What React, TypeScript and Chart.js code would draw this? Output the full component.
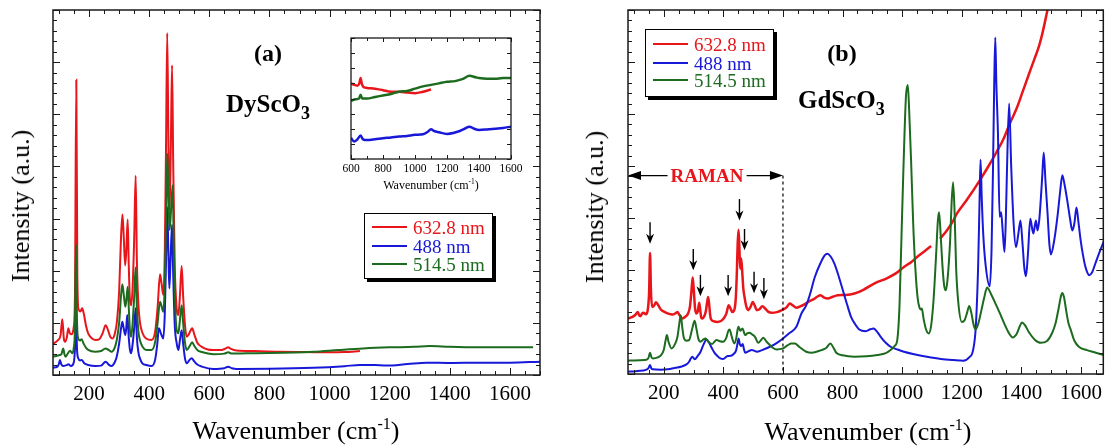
import React, { useEffect, useRef } from 'react';
import { Chart, registerables } from 'chart.js';

Chart.register(...registerables);

const SERIF = "'Liberation Serif', 'Times New Roman', serif";
const RED = '#e8161b';
const BLUE = '#1818d8';
const GREEN = '#1c6b1e';

type P = [number, number];

// ---------- Panel (a): DyScO3 ----------
const dyRed632: P[] = [
  [80, 3.0], [95, 3.3], [105, 3.8], [111, 5.34], [116, 3.5], [120, 3.2], [126, 3.6], [131, 4.48], [136, 4.0], [142, 3.9],
  [149, 4.6], [153, 7.5], [157.5, 28.3], [161, 9.5], [165, 6.3], [171, 6.1], [177, 6.4], [183, 5.8], [190, 4.7], [197, 4.0],
  [210, 3.5], [222, 3.35], [235, 3.45], [245, 4.0], [255, 4.76], [263, 4.3], [270, 3.7], [278, 3.5], [286, 4.0], [293, 5.2],
  [300, 8.0], [306, 13.0], [311, 15.4], [315, 13.5], [320, 10.5], [324, 12.0], [328.5, 14.9], [332, 10.5], [336, 7.2], [340, 6.7],
  [345, 8.5], [350, 13.0], [355, 19.1], [359, 11.0], [364, 6.8], [369, 5.1], [378, 4.0], [390, 3.5], [408, 3.35], [420, 4.2],
  [428, 6.5], [436, 9.65], [441, 8.8], [447, 7.67], [452, 12.0], [456, 22.0], [460, 32.8], [464, 22.0], [468, 15.8], [472, 22.0],
  [476, 29.7], [480, 20.0], [485, 10.5], [491, 6.55], [497, 5.75], [502, 7.5], [508, 10.45], [513, 7.5], [519, 4.8], [525, 3.67],
  [532, 3.9], [538, 4.3], [543, 4.48], [550, 3.9], [560, 3.1], [575, 2.7], [595, 2.45], [613, 2.4], [640, 2.4], [655, 2.55],
  [663, 2.65], [672, 2.5], [690, 2.35], [750, 2.3], [835, 2.23], [920, 2.2], [1001, 2.17], [1050, 2.2], [1101, 2.3],
];
const dyGreen514: P[] = [
  [80, 1.76], [100, 1.9], [108, 2.0], [114, 2.55], [118, 2.0], [122, 1.76], [130, 2.1], [137, 2.33], [144, 2.08], [149, 2.6],
  [153, 4.5], [156.5, 12.5], [160, 5.0], [164, 3.5], [170, 3.3], [175, 3.42], [182, 3.0], [190, 2.6], [197, 2.4], [220, 2.23],
  [240, 2.3], [255, 2.55], [265, 2.4], [275, 2.23], [285, 2.6], [292, 3.35], [300, 5.0], [306, 7.5], [310.6, 8.7], [315, 7.8],
  [320.6, 6.55], [325, 7.5], [328.5, 8.47], [332, 6.5], [336, 4.2], [340, 3.67], [345, 5.0], [350, 7.5], [355, 10.3], [359, 6.5],
  [364, 4.2], [369, 3.35], [378, 2.7], [390, 2.4], [408, 2.4], [420, 3.2], [428, 5.0], [436, 7.03], [441, 6.6], [447, 6.07],
  [452, 9.0], [456, 15.0], [460, 21.25], [464, 17.0], [468, 13.9], [473, 16.0], [478, 18.2], [482, 12.0], [486, 7.0], [491.5, 4.3],
  [497, 4.0], [502, 5.2], [508, 6.7], [513, 5.0], [519, 3.1], [525, 2.4], [535, 2.8], [543, 3.13], [550, 2.8], [560, 2.4],
  [575, 2.2], [613, 2.0], [650, 2.05], [663, 2.17], [675, 2.05], [724, 2.08], [800, 2.1], [946, 2.23], [1030, 2.4], [1112, 2.55],
  [1200, 2.65], [1280, 2.7], [1334, 2.78], [1400, 2.7], [1500, 2.65], [1600, 2.65], [1677, 2.65],
];
const dyBlue488: P[] = [
  [80, 0.7], [95, 0.8], [100, 1.1], [103, 1.44], [108, 1.0], [114, 0.86], [125, 0.95], [131, 1.02], [140, 0.86], [149, 1.2],
  [153, 2.5], [156.5, 5.6], [160, 2.4], [164, 1.6], [170, 1.4], [175, 1.44], [185, 1.1], [197, 0.96], [220, 0.86], [240, 0.9],
  [255, 1.28], [265, 1.0], [275, 0.86], [285, 1.2], [292, 1.76], [300, 3.0], [306, 4.4], [310.6, 5.1], [315, 4.5], [320.6, 3.83],
  [324, 4.6], [327, 5.75], [332, 3.6], [336, 2.4], [340, 2.08], [345, 3.0], [350, 4.5], [355, 6.4], [359, 3.6], [364, 2.2],
  [369, 1.6], [378, 1.1], [390, 0.96], [408, 0.86], [420, 1.5], [427, 3.0], [432, 4.48], [440, 3.9], [447, 3.5], [452, 6.0],
  [456, 11.0], [460, 16.1], [464, 11.5], [467, 8.3], [471, 11.0], [476, 14.4], [480, 9.5], [485, 4.8], [491.5, 3.04], [497, 2.4],
  [502, 3.3], [508, 4.3], [513, 3.0], [519, 1.6], [525, 1.12], [533, 1.4], [541, 1.6], [550, 1.3], [560, 1.0], [575, 0.8],
  [613, 0.58], [650, 0.65], [663, 0.8], [675, 0.65], [691, 0.58], [800, 0.6], [946, 0.7], [1050, 0.85], [1101, 0.96], [1150, 0.95],
  [1190, 0.9], [1260, 1.05], [1323, 1.18], [1400, 1.15], [1500, 1.18], [1600, 1.18], [1700, 1.28],
];

// Inset of panel (a)
const insetRed: P[] = [
  [600, 5.0], [620, 4.9], [640, 4.85], [652, 5.0], [660, 5.35], [668, 4.95], [680, 4.75], [700, 4.7], [750, 4.65], [800, 4.55],
  [850, 4.45], [900, 4.45], [950, 4.4], [1000, 4.35], [1050, 4.45], [1100, 4.6],
];
const insetGreen: P[] = [
  [600, 3.85], [630, 3.95], [650, 4.0], [660, 4.25], [670, 4.0], [700, 4.0], [750, 4.1], [800, 4.2], [850, 4.3], [900, 4.45],
  [950, 4.5], [1000, 4.65], [1050, 4.8], [1100, 4.9], [1150, 5.0], [1200, 5.1], [1250, 5.15], [1300, 5.3], [1340, 5.5], [1380, 5.4],
  [1400, 5.35], [1450, 5.3], [1500, 5.3], [1550, 5.35], [1600, 5.35],
];
const insetBlue: P[] = [
  [600, 1.4], [620, 1.15], [640, 1.3], [660, 1.55], [675, 1.3], [700, 1.25], [750, 1.3], [800, 1.37], [850, 1.42], [900, 1.48],
  [950, 1.52], [1000, 1.6], [1050, 1.63], [1080, 1.8], [1100, 1.97], [1120, 1.85], [1150, 1.77], [1200, 1.66], [1250, 1.75], [1280, 1.85],
  [1310, 2.0], [1340, 2.14], [1370, 2.0], [1400, 1.92], [1450, 1.95], [1500, 2.0], [1550, 2.05], [1600, 2.14],
];

// ---------- Panel (b): GdScO3 ----------
const gdRed632a: P[] = [
  [80, 5.34], [95, 5.5], [105, 5.7], [113, 5.97], [118, 5.6], [122, 5.56], [127, 5.8], [132, 5.88], [140, 5.75], [147, 6.3],
  [151, 8.0], [154, 11.63], [157, 8.0], [161, 6.45], [168, 6.6], [174, 6.9], [182, 6.6], [190, 6.2], [202, 5.97], [215, 5.8],
  [229.5, 5.72], [240, 5.85], [246, 5.97], [252, 5.7], [263, 5.34], [272, 5.5], [281.6, 5.82], [288, 6.5], [293, 8.0], [297, 9.27],
  [301, 8.0], [305, 6.3], [309, 5.82], [314, 6.0], [319, 6.84], [323, 6.0], [326, 5.4], [330, 5.34], [335, 5.5], [341, 6.0],
  [345, 6.8], [349, 7.41], [353, 6.5], [356, 5.6], [359, 5.24], [370, 5.05], [379, 5.01], [392, 5.1], [401, 5.34], [410, 5.8],
  [418, 6.6], [424, 6.3], [430, 5.95], [436, 6.1], [441, 7.0], [445, 9.5], [448, 12.5], [451, 13.87], [454, 12.0], [456.5, 10.13],
  [460, 11.1], [464, 9.5], [467, 8.2], [471, 7.4], [477, 6.5], [484, 6.14], [492, 6.5], [498.6, 6.93], [505, 6.6], [512, 6.14],
  [520, 6.2], [531, 6.52], [540, 6.3], [550, 6.0], [562, 5.88], [580, 5.95], [600, 6.2], [612, 6.4], [622.5, 6.77], [633, 6.6],
  [645, 6.36], [658, 6.5], [672, 6.7], [685, 6.93], [707, 7.26], [716, 7.45], [726, 7.57], [738, 7.35], [751, 7.26], [765, 7.4],
  [784, 7.57], [810, 7.6], [840, 7.74], [870, 8.1], [906, 8.7], [950, 9.23], [980, 9.7], [1006, 10.29], [1030, 10.75], [1050, 11.25],
  [1075, 11.8], [1097, 12.3],
];
const gdRed632b: P[] = [
  [1127, 13.0], [1150, 13.8], [1172, 14.77], [1183, 15.4], [1216, 16.7], [1260, 18.6], [1290, 20.0], [1316, 21.3], [1340, 22.6],
  [1360, 24.0], [1385, 25.6], [1405, 27.2], [1425, 28.8], [1444, 30.3], [1460, 31.6], [1471, 32.8], [1488, 35.05], [1495, 36.0],
];
const gdBlue488: P[] = [
  [80, 0.22], [100, 0.25], [113, 0.29], [140, 0.4], [148, 0.55], [154, 0.86], [159, 0.5], [164, 0.45], [190, 0.42], [213, 0.45],
  [240, 0.6], [257, 0.7], [275, 0.9], [285, 1.18], [291, 1.5], [296, 1.66], [304, 1.41], [313, 1.7], [323.5, 2.14], [333, 2.8],
  [343.5, 3.32], [352, 3.0], [362, 2.46], [370, 2.05], [379, 1.76], [390, 1.5], [399, 1.44], [414.5, 1.73], [425, 1.75], [434.5, 1.92],
  [443, 2.3], [448, 3.0], [451, 3.42], [455, 2.9], [459, 2.68], [465, 2.88], [469, 2.4], [473, 2.04], [485, 2.2], [495, 2.3],
  [503, 2.25], [512, 2.14], [530, 2.3], [556, 2.62], [580, 3.0], [600, 3.42], [620, 3.9], [645, 4.54], [662, 5.82], [678, 6.6],
  [690, 7.6], [707, 9.33], [725, 10.6], [740, 11.4], [749, 11.57], [760, 11.3], [773, 10.6], [787, 9.4], [801, 8.05], [815, 6.7],
  [828.5, 5.5], [842, 4.8], [856, 4.28], [878, 4.12], [893, 4.3], [904, 4.38], [915, 4.1], [928, 3.58], [945, 3.0], [961, 2.62],
  [985, 2.35], [1006, 2.14], [1040, 1.9], [1083, 1.66], [1130, 1.45], [1172, 1.34], [1205, 1.28], [1225, 1.6], [1238, 2.3], [1247, 4.5],
  [1255, 10.38], [1260, 17.0], [1263, 20.6], [1267, 17.0], [1272, 13.5], [1280, 10.5], [1294, 8.44], [1300, 12.0], [1305, 20.0], [1309, 28.0],
  [1312.5, 32.35], [1316, 28.0], [1321.5, 23.1], [1327, 15.1], [1332, 15.56], [1338, 13.5], [1343.5, 11.73], [1348, 15.0], [1352, 19.9], [1359, 26.0],
  [1366, 19.9], [1374, 14.5], [1382, 12.2], [1390, 13.5], [1397, 14.77], [1404, 12.5], [1410, 10.2], [1415.5, 9.4], [1422, 11.5], [1430, 14.93],
  [1440, 13.5], [1449, 14.77], [1454, 13.8], [1460, 14.8], [1465, 16.7], [1470, 19.0], [1475, 21.3], [1481, 18.5], [1488, 15.4], [1494, 12.5],
  [1499, 11.5], [1510, 12.8], [1521, 15.1], [1530, 17.5], [1537.5, 19.1], [1545, 18.2], [1554, 16.7], [1563, 15.0], [1571, 13.8], [1578, 14.5],
  [1585, 16.0], [1592, 14.5], [1599, 12.85], [1607, 11.4], [1615, 10.3], [1628, 9.5], [1638, 9.8], [1648, 10.6], [1662, 11.7], [1676, 12.7],
];
const gdGreen514: P[] = [
  [80, 1.28], [100, 1.3], [135, 1.34], [148, 1.5], [154, 2.04], [159, 1.6], [164, 1.5], [180, 1.6], [191, 1.82], [200, 2.3],
  [206, 3.2], [210.5, 3.74], [216, 3.1], [226, 2.46], [238, 2.9], [246, 3.58], [252, 4.8], [257, 5.66], [262, 4.5], [268, 3.42],
  [276, 3.2], [285, 3.26], [295, 4.3], [303.6, 5.11], [310, 4.3], [316, 3.4], [323.5, 3.1], [332, 3.3], [340, 3.42], [350, 3.1],
  [362, 2.88], [370, 3.1], [377, 3.26], [388, 3.15], [399, 3.1], [410, 3.5], [416, 4.1], [421, 4.28], [428, 3.6], [436.5, 2.94],
  [443, 3.4], [448, 4.3], [451, 4.54], [456.5, 4.15], [464, 4.38], [473, 3.74], [480, 3.9], [487.6, 3.96], [497, 3.8], [506, 3.58],
  [517.5, 3.0], [526, 3.25], [534, 3.48], [545, 3.1], [556, 2.78], [567, 2.5], [578, 2.36], [600, 2.46], [615, 2.75], [628, 2.94],
  [640, 2.94], [655, 2.6], [678, 2.14], [696, 2.04], [729, 2.3], [745, 2.5], [759, 2.94], [770, 2.5], [779, 2.04], [800, 1.8],
  [840, 1.66], [880, 1.7], [917, 1.82], [945, 2.0], [961, 2.3], [975, 2.7], [984, 3.36], [991, 6.5], [998, 13.5], [1003, 18.5],
  [1008, 23.2], [1013, 26.8], [1019, 27.8], [1024, 25.0], [1030, 20.5], [1037, 14.5], [1044, 10.3], [1052, 7.3], [1058, 6.4], [1063, 6.2],
  [1066, 6.3], [1072, 5.3], [1080, 4.3], [1089, 3.9], [1097, 4.6], [1105.5, 7.19], [1114, 11.5], [1120, 14.8], [1124, 15.56], [1129, 13.5],
  [1135.5, 10.3], [1141, 8.5], [1146.5, 8.05], [1152, 9.0], [1161, 12.85], [1166, 16.5], [1171, 18.44], [1176, 15.5], [1181, 10.3], [1188, 7.0],
  [1200, 5.01], [1210, 5.2], [1218, 5.9], [1225, 6.55], [1232, 5.9], [1240, 4.7], [1247, 4.28], [1256, 4.9], [1266, 6.14], [1275, 7.3],
  [1285, 8.31], [1298, 7.7], [1316, 6.6], [1330, 5.7], [1343.5, 4.79], [1357, 4.0], [1371, 3.52], [1385, 3.9], [1395, 4.6], [1402, 4.95],
  [1412, 4.7], [1426, 3.99], [1445, 3.3], [1465, 3.0], [1485, 3.15], [1504, 3.99], [1515, 4.9], [1525, 6.3], [1533, 7.5], [1537.5, 7.8],
  [1543, 7.4], [1551, 6.0], [1558, 4.9], [1565, 4.31], [1578, 3.2], [1593, 2.62], [1620, 2.3], [1650, 2.05], [1676, 1.82],
];

// Raman markers in panel (b)
const ramanArrowX = [154, 299, 323, 416, 454, 471, 503, 536];
const ramanArrowTip = [12.53, 9.97, 7.48, 7.48, 14.77, 11.89, 7.77, 7.19];
const ramanArrowLen = 2.05;
const ramanSpan: P = [80, 600];
const ramanLevel = 19.08;

const xTicksMain = [200, 400, 600, 800, 1000, 1200, 1400, 1600];
const xTicksInset = [600, 800, 1000, 1200, 1400, 1600];
const legendLabels = ['632.8 nm', '488 nm', '514.5 nm'];
const legendColors = [RED, BLUE, GREEN];

const toXY = (p: P[]) => p.map(([x, y]) => ({ x, y }));
const lineDs = (data: P[], color: string, width = 2) => ({
  data: toXY(data),
  borderColor: color,
  backgroundColor: color,
  borderWidth: width,
  pointRadius: 0,
  fill: false,
  cubicInterpolationMode: 'monotone' as const,
});

const frameTicks = {
  id: 'frameTicks',
  afterDatasetsDraw(chart: any, _args: any, o: any) {
    const { ctx, chartArea: a, scales } = chart;
    const xs = scales.x;
    const ys = scales.y;
    const seg = (x1: number, y1: number, x2: number, y2: number) => {
      ctx.beginPath();
      ctx.moveTo(x1, y1);
      ctx.lineTo(x2, y2);
      ctx.stroke();
    };
    ctx.save();
    ctx.strokeStyle = '#1a1a1a';
    ctx.lineWidth = 1;
    const isMul = (v: number, m: number) => Math.abs(v / m - Math.round(v / m)) < 1e-6;
    for (let v = Math.ceil(xs.min / o.xMinor) * o.xMinor; v <= xs.max; v += o.xMinor) {
      const px = Math.round(xs.getPixelForValue(v)) + 0.5;
      const len = isMul(v, o.xMajor) ? o.majorLen : o.minorLen;
      seg(px, a.bottom, px, a.bottom - len);
      seg(px, a.top, px, a.top + len);
    }
    for (let v = Math.ceil(ys.min / o.yMinor) * o.yMinor; v <= ys.max + 1e-9; v += o.yMinor) {
      const py = Math.round(ys.getPixelForValue(v)) + 0.5;
      const len = isMul(v, o.yMajor) ? o.majorLen : o.minorLen;
      seg(a.left, py, a.left + len, py);
      seg(a.right, py, a.right - len, py);
    }
    ctx.lineWidth = o.frameWidth;
    ctx.strokeRect(a.left, a.top, a.right - a.left, a.bottom - a.top);
    ctx.restore();
  },
};

const ramanMarks = {
  id: 'ramanMarks',
  afterDatasetsDraw(chart: any) {
    const { ctx, chartArea: a, scales } = chart;
    const xs = scales.x;
    const ys = scales.y;
    ctx.save();
    ctx.strokeStyle = '#000';
    ctx.fillStyle = '#000';
    const xEnd = xs.getPixelForValue(ramanSpan[1]);
    const yL = ys.getPixelForValue(ramanLevel);
    ctx.lineWidth = 1.2;
    ctx.setLineDash([3, 3]);
    ctx.beginPath();
    ctx.moveTo(xEnd, yL);
    ctx.lineTo(xEnd, a.bottom);
    ctx.stroke();
    ctx.setLineDash([]);
    const xStart = xs.getPixelForValue(ramanSpan[0]);
    ctx.lineWidth = 1.3;
    ctx.beginPath();
    ctx.moveTo(xStart + 4, yL);
    ctx.lineTo(xEnd - 4, yL);
    ctx.stroke();
    ctx.beginPath();
    ctx.moveTo(xStart, yL);
    ctx.lineTo(xStart + 13, yL - 4.5);
    ctx.lineTo(xStart + 13, yL + 4.5);
    ctx.closePath();
    ctx.fill();
    ctx.beginPath();
    ctx.moveTo(xEnd, yL);
    ctx.lineTo(xEnd - 13, yL - 4.5);
    ctx.lineTo(xEnd - 13, yL + 4.5);
    ctx.closePath();
    ctx.fill();
    ctx.lineWidth = 1.4;
    ramanArrowX.forEach((xv, i) => {
      const px = xs.getPixelForValue(xv);
      const tip = ys.getPixelForValue(ramanArrowTip[i]);
      const top = ys.getPixelForValue(ramanArrowTip[i] + ramanArrowLen);
      ctx.beginPath();
      ctx.moveTo(px, top);
      ctx.lineTo(px, tip - 4);
      ctx.stroke();
      ctx.beginPath();
      ctx.moveTo(px, tip);
      ctx.lineTo(px - 4, tip - 10);
      ctx.lineTo(px, tip - 7);
      ctx.lineTo(px + 4, tip - 10);
      ctx.closePath();
      ctx.fill();
    });
    ctx.restore();
  },
};

function makeConfig(opts: {
  datasets: any[];
  xMin: number;
  xMax: number;
  yMax: number;
  ticks: number[];
  tickSize: number;
  tickPad: number;
  padding: any;
  xHeight: number;
  frame: any;
  extra?: any[];
}) {
  return {
    type: 'line' as const,
    data: { datasets: opts.datasets },
    options: {
      responsive: false,
      devicePixelRatio: 1,
      animation: false as const,
      layout: { padding: opts.padding },
      plugins: {
        legend: { display: false },
        tooltip: { enabled: false },
        frameTicks: opts.frame,
      },
      scales: {
        x: {
          type: 'linear' as const,
          min: opts.xMin,
          max: opts.xMax,
          afterBuildTicks: (s: any) => {
            s.ticks = opts.ticks.map((v) => ({ value: v }));
          },
          afterFit: (s: any) => {
            s.height = opts.xHeight;
          },
          ticks: {
            font: { family: SERIF, size: opts.tickSize },
            color: '#000',
            padding: opts.tickPad,
            maxRotation: 0,
            autoSkip: false,
            callback: (v: any) => String(v),
          },
          grid: { display: false, drawTicks: false },
          border: { display: false },
        },
        y: { type: 'linear' as const, min: 0, max: opts.yMax, display: false },
      },
    },
    plugins: [frameTicks, ...(opts.extra || [])],
  };
}

const sub = (t: string) => (
  <span style={{ fontSize: '0.72em', position: 'relative', top: '0.38em' }}>{t}</span>
);
const sup = (t: string) => (
  <span style={{ fontSize: '0.62em', position: 'relative', top: '-0.62em' }}>{t}</span>
);

function Text(props: { x: number; y: number; size: number; bold?: boolean; color?: string; rotate?: boolean; bg?: boolean; children: any }) {
  return (
    <div
      style={{
        position: 'absolute',
        left: props.x,
        top: props.y,
        transform: `translate(-50%, -50%)${props.rotate ? ' rotate(-90deg)' : ''}`,
        fontSize: props.size,
        fontWeight: props.bold ? 'bold' : 'normal',
        color: props.color || '#000',
        whiteSpace: 'nowrap',
        lineHeight: 1,
        background: props.bg ? '#fff' : 'transparent',
        padding: props.bg ? '0 3px' : 0,
      }}
    >
      {props.children}
    </div>
  );
}

function Legend(props: { left: number; top: number; width: number; height: number; rows: number[] }) {
  return (
    <div
      style={{
        position: 'absolute',
        left: props.left,
        top: props.top,
        width: props.width,
        height: props.height,
        boxSizing: 'border-box',
        border: '1.5px solid #000',
        boxShadow: '3px 3px 0 #000',
        background: '#fff',
      }}
    >
      {legendLabels.map((lab, i) => (
        <React.Fragment key={lab}>
          <div style={{ position: 'absolute', left: 7, top: props.rows[i] - 1, width: 35, height: 2, background: legendColors[i] }} />
          <div
            style={{
              position: 'absolute',
              left: 48,
              top: props.rows[i],
              transform: 'translateY(-50%)',
              fontSize: 19,
              lineHeight: 1,
              color: legendColors[i],
              whiteSpace: 'nowrap',
            }}
          >
            {lab}
          </div>
        </React.Fragment>
      ))}
    </div>
  );
}

export default function App() {
  const refA = useRef<HTMLCanvasElement>(null);
  const refB = useRef<HTMLCanvasElement>(null);
  const refI = useRef<HTMLCanvasElement>(null);

  useEffect(() => {
    const mainFrame = { xMinor: 50, xMajor: 200, yMinor: 1, yMajor: 5, majorLen: 7, minorLen: 4, frameWidth: 1.5 };
    const cfgA = makeConfig({
      datasets: [lineDs(dyGreen514, GREEN), lineDs(dyBlue488, BLUE), lineDs(dyRed632, RED)],
      xMin: 80, xMax: 1700, yMax: 35, ticks: xTicksMain, tickSize: 21, tickPad: 7,
      padding: { left: 53, top: 10, right: 15, bottom: 0 }, xHeight: 73, frame: mainFrame,
    });
    const cfgB = makeConfig({
      datasets: [
        lineDs(gdGreen514, GREEN),
        lineDs(gdBlue488, BLUE),
        lineDs(gdRed632a, RED, 2.5),
        lineDs(gdRed632b, RED, 2.5),
      ],
      xMin: 80, xMax: 1675, yMax: 35, ticks: xTicksMain, tickSize: 21, tickPad: 7,
      padding: { left: 73, top: 10, right: 1, bottom: 0 }, xHeight: 74, frame: mainFrame, extra: [ramanMarks],
    });
    const cfgI = makeConfig({
      datasets: [lineDs(insetGreen, GREEN, 2.5), lineDs(insetBlue, BLUE, 2.5), lineDs(insetRed, RED, 2.5)],
      xMin: 600, xMax: 1600, yMax: 8, ticks: xTicksInset, tickSize: 11.5, tickPad: 3,
      padding: { left: 21, top: 10, right: 19, bottom: 0 }, xHeight: 19,
      frame: { xMinor: 100, xMajor: 200, yMinor: 1, yMajor: 1, majorLen: 4, minorLen: 3, frameWidth: 1.3 },
    });
    const charts = [
      new Chart(refA.current as HTMLCanvasElement, cfgA as any),
      new Chart(refB.current as HTMLCanvasElement, cfgB as any),
      new Chart(refI.current as HTMLCanvasElement, cfgI as any),
    ];
    return () => charts.forEach((c) => c.destroy());
  }, []);

  return (
    <div style={{ position: 'absolute', left: 0, top: 0, width: 1109, height: 448, background: '#fff', fontFamily: SERIF, overflow: 'hidden' }}>
      <canvas ref={refA} width={555} height={448} style={{ position: 'absolute', left: 0, top: 0, width: 555, height: 448 }} />
      <canvas ref={refB} width={554} height={448} style={{ position: 'absolute', left: 555, top: 0, width: 554, height: 448 }} />
      <canvas ref={refI} width={200} height={150} style={{ position: 'absolute', left: 330, top: 28, width: 200, height: 150 }} />

      <Text x={268} y={53} size={24} bold>(a)</Text>
      <div style={{ position: 'absolute', left: 226, top: 103, transform: 'translateY(-50%)', fontSize: 25, fontWeight: 'bold', lineHeight: 1, whiteSpace: 'nowrap' }}>
        DyScO{sub('3')}
      </div>
      <Text x={842} y={53} size={24} bold>(b)</Text>
      <div style={{ position: 'absolute', left: 798, top: 99, transform: 'translateY(-50%)', fontSize: 25, fontWeight: 'bold', lineHeight: 1, whiteSpace: 'nowrap' }}>
        GdScO{sub('3')}
      </div>

      <Text x={431} y={185} size={12}>Wavenumber (cm{sup('-1')})</Text>

      <Text x={296} y={431} size={26}>Wavenumber (cm{sup('-1')})</Text>
      <Text x={868} y={432} size={26}>Wavenumber (cm{sup('-1')})</Text>
      <Text x={21} y={206} size={26} rotate>Intensity (a.u.)</Text>
      <Text x={595} y={207} size={26} rotate>Intensity (a.u.)</Text>

      <Text x={707} y={175} size={19} bold color={RED} bg>RAMAN</Text>

      <Legend left={364} top={213} width={129} height={66} rows={[13, 32, 50]} />
      <Legend left={645} top={29} width={129} height={68} rows={[14, 33, 50]} />
    </div>
  );
}
